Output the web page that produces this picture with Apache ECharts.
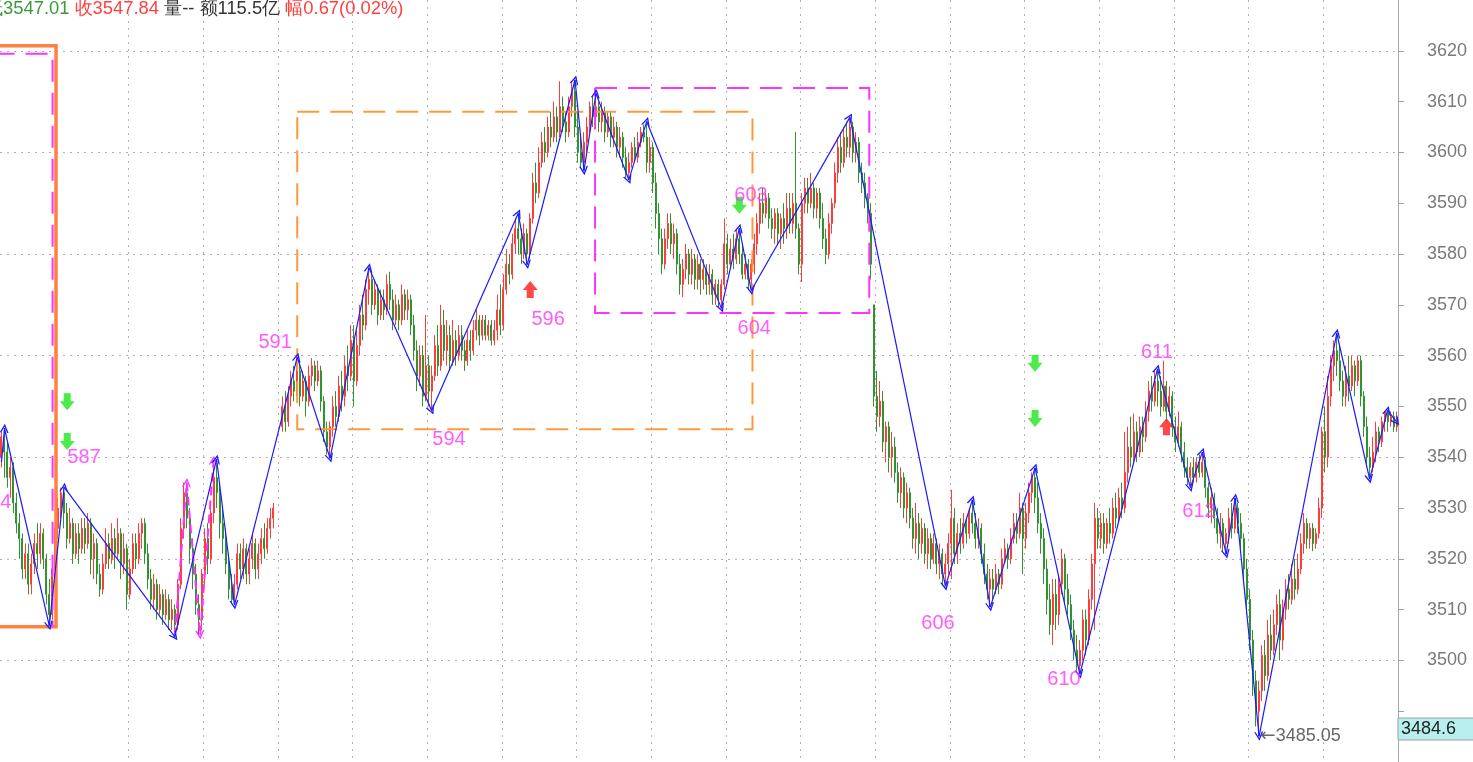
<!DOCTYPE html>
<html><head><meta charset="utf-8">
<script src="https://cdn.jsdelivr.net/npm/echarts@6/dist/echarts.min.js"></script>
<style>html,body{margin:0;padding:0;background:#fff;overflow:hidden}#c{width:1473px;height:762px}</style>
</head><body><div id="c"></div>
<script>
// candle data: [open, close, low, high]
const segA = [
[3540,3544,3538,3545],[3544,3541,3536,3545.7],[3541,3536,3534,3543],[3536,3538,3532,3540],[3538,3531,3529,3539],
[3531,3527,3525,3533],[3527,3524,3520,3529],[3524,3518,3516,3525],[3518,3521,3516,3523],[3521,3515,3513,3523],
[3515,3519,3513,3521],[3519,3523,3517,3525],[3523,3521,3518,3527],[3521,3525,3519,3527],[3525,3520,3518,3526],
[3520,3513,3511,3521],[3513,3509,3506.8,3516],[3509,3518,3508,3519],[3518,3526,3515,3528],[3526,3530,3524,3532],
[3530,3533,3528,3534],[3533,3529,3526,3534.1],[3529,3524,3522,3531],[3524,3527,3523,3530],[3527,3521,3519,3528],
[3521,3525,3520,3527],[3525,3522,3519,3527],[3522,3526,3521,3528],[3526,3523,3521,3528],[3523,3527,3522,3529],
[3527,3520,3517,3528],[3520,3523,3516,3525],[3523,3517,3515,3524],[3517,3514,3512.5,3519],[3514,3519,3513,3521],
[3519,3523,3518,3526],[3523,3520,3518,3525],[3520,3524,3519,3527],[3524,3521,3518,3526],[3521,3525,3520,3528],
[3525,3519,3516,3526],[3519,3522,3517,3525],[3522,3513,3510,3523],[3513,3518,3512,3520],[3518,3523,3517,3525],
[3523,3520,3518,3525],[3520,3525,3519,3527],[3525,3527,3522,3528],[3527,3521,3519,3528],[3521,3516,3514,3523],
[3516,3512,3510,3518],[3512,3515,3510,3517],[3515,3510,3508,3516],[3510,3513,3509,3515],[3513,3509,3507,3514],
[3509,3512,3508,3514],[3512,3508,3506,3513],[3508,3510,3506,3512],[3510,3507,3504.7,3511],[3507,3515,3506,3516],
[3515,3526,3514,3528],[3526,3533,3524,3535],[3533,3528,3526,3535],[3528,3522,3519,3530],[3522,3517,3514,3524],
[3517,3511,3509,3519],[3511,3508,3505,3513],[3508,3517,3506,3518],[3517,3524,3515,3526],[3524,3520,3517,3527],
[3520,3529,3519,3531],[3529,3536,3527,3538],[3536,3533,3530,3539.6],[3533,3527,3524,3535],[3527,3524,3521,3530],
[3524,3519,3517,3526],[3519,3514,3512,3521],[3514,3512,3511.5,3517],[3512,3515,3510.9,3517],[3515,3521,3514,3523],
[3521,3518,3516,3523],[3518,3522,3516,3524],[3522,3517,3515,3523],[3517,3520,3515,3522],[3520,3523,3518,3525],
[3523,3518,3516,3524],[3518,3521,3516,3523],[3521,3524,3519,3526],[3524,3522,3520,3527],[3522,3526,3521,3528],
[3526,3528,3524,3530],[3528,3530,3526,3531]
];
const segGap = [['-','-','-','-'],['-','-','-','-']];
const segB = [
[3546,3550,3545,3552],[3550,3547,3545,3553],[3547,3552,3546,3554],[3552,3555,3550,3557],[3555,3553,3551,3558],
[3553,3557,3552,3559.7],[3557,3552,3550,3559],[3552,3555,3551,3557],[3555,3551,3548,3556],[3551,3556,3550,3558],
[3556,3558,3554,3559.5],[3558,3555,3553,3559],[3555,3557,3554,3559],[3557,3551,3549,3558],[3551,3545,3543,3552],
[3545,3542,3540.5,3547],[3542,3546,3539.8,3547],[3546,3550,3544,3552],[3550,3548,3546,3553],[3548,3554,3547,3556],
[3554,3552,3549,3557],[3552,3558,3550,3560],[3558,3556,3553,3562],[3556,3563,3555,3566],[3563,3555,3550,3566],
[3555,3562,3554,3565],[3562,3568,3560,3570],[3568,3566,3563,3572],[3566,3573,3565,3575],[3573,3575,3570,3577.3],
[3575,3570,3568,3576],[3570,3573,3569,3575],[3573,3568,3566,3574],[3568,3571,3567,3573],[3571,3569,3567,3573],
[3569,3574,3568,3576],[3574,3571,3569,3576.5],[3571,3567,3565,3573],[3567,3570,3566,3572],[3570,3567,3565,3571],
[3567,3572,3566,3574],[3572,3569,3567,3573],[3569,3571,3567,3573],[3571,3566,3564,3572],[3566,3561,3559,3568],
[3561,3556,3553,3563],[3556,3560,3554,3562],[3560,3552,3550,3562],[3552,3558,3551,3568],[3558,3553,3550,3560],
[3553,3556,3549.2,3558],[3556,3562,3555,3564],[3562,3558,3556,3566],[3558,3566,3557,3570],[3566,3561,3559,3569],
[3561,3564,3558,3567],[3564,3559,3557,3566],[3559,3563,3558,3567],[3563,3560,3558,3565],[3560,3564,3559,3566],
[3564,3561,3559,3566],[3561,3559,3557,3563],[3559,3563,3558,3565],[3563,3561,3559,3565],[3561,3565,3560,3567],
[3565,3567,3563,3569],[3567,3564,3562,3568],[3564,3567,3563,3568],[3567,3564,3563,3568],[3564,3566,3563,3567],
[3566,3563,3562,3567],[3563,3565,3562,3567],[3565,3569,3563,3572],[3569,3566,3564,3574],[3566,3573,3565,3576],
[3573,3578,3572,3581],[3578,3576,3574,3580],[3576,3582,3575,3584],[3582,3585,3580,3587],[3585,3583,3580,3588]
];
const segC = [
[3583,3580,3578,3585],[3580,3584,3579,3586],[3584,3580,3577.9,3585],[3580,3587,3579,3588],[3587,3594,3586,3596],
[3594,3592,3590,3598],[3592,3598,3591,3601],[3598,3602,3597,3604],[3602,3600,3598,3605],[3600,3605,3599,3607],
[3605,3603,3601,3608],[3603,3607,3602,3610],[3607,3604,3602,3609],[3604,3609,3603,3614],[3609,3606,3604,3611],
[3606,3604,3602,3608],[3604,3609,3603,3611],[3609,3612,3607,3614],[3612,3605,3603,3614.3],[3605,3600,3598,3608],
[3600,3598,3597,3603],[3598,3602,3596.4,3604],[3602,3605,3600,3607],[3605,3609,3604,3610],[3609,3607,3605,3611],
[3607,3609,3605,3611.6],[3609,3606,3604,3610],[3606,3608,3604,3610],[3608,3604,3602,3609],[3604,3607,3603,3608],
[3607,3603,3601,3608],[3603,3605,3601,3607],[3605,3601,3599,3606],[3601,3603,3599,3605],[3603,3599,3597,3604],
[3599,3596,3595,3601],[3596,3598,3594.6,3600],[3598,3601,3597,3602],[3601,3599,3598,3603],[3599,3602,3598,3604],
[3602,3604,3601,3605],[3604,3603,3602,3605.5],[3603,3598,3596,3606.1],[3598,3601,3596,3603],[3601,3594,3592,3602],
[3594,3588,3585,3596],[3588,3583,3580,3590],[3583,3578,3576,3585],[3578,3583,3577,3585],[3583,3586,3581,3588],
[3586,3582,3580,3588],[3582,3584,3579,3586],[3584,3578,3576,3585],[3578,3574,3572,3580],[3574,3577,3571.5,3579],
[3577,3580,3575,3582],[3580,3576,3574,3581],[3576,3579,3574,3581],[3579,3575,3573,3580],[3575,3578,3573,3580],
[3578,3575,3572,3579],[3575,3577,3573,3579],[3577,3574,3572,3578],[3574,3576,3572,3578],[3576,3572,3570,3577],
[3572,3574,3570,3575],[3574,3571,3569.5,3575],[3571,3574,3569.3,3575],[3574,3582,3573,3587],[3582,3578,3576,3584],
[3578,3581,3577,3583],[3581,3579,3577,3584],[3579,3583,3578,3585],[3583,3580,3578,3585.1],[3580,3576,3575,3582],
[3576,3578,3575,3580],[3578,3575,3573,3579],[3575,3578,3572.8,3579]
];
const segD = [
[3578,3582,3576,3584],[3582,3586,3580,3588],[3586,3590,3584,3592],[3590,3588,3586,3593],[3588,3591,3587,3592],
[3591,3587,3585,3592],[3587,3585,3583,3589],[3585,3588,3582,3589],[3588,3584,3582,3589],[3584,3587,3581,3588],
[3587,3585,3582,3590],[3585,3589,3583,3592],[3589,3586,3584,3592],[3586,3590,3584,3592],[3590,3585,3583,3604],
[3585,3578,3576,3586],[3578,3590,3574.5,3592],[3590,3593,3588,3595],[3593,3590,3588,3595],[3590,3593,3589,3596],
[3593,3589,3587,3594],[3589,3592,3587,3593],[3592,3587,3585,3593],[3587,3583,3581,3590],[3583,3580,3578,3585],
[3580,3586,3579,3588],[3586,3590,3584,3591],[3590,3596,3589,3598],[3596,3601,3594,3603],[3601,3598,3596,3604],
[3598,3603,3597,3605],[3603,3601,3599,3606],[3601,3605,3599,3606.9],[3605,3600,3598,3606],[3600,3602,3598,3604],
[3602,3596,3594,3603],[3596,3594,3592,3598],[3594,3591,3589,3596],[3591,3588,3586,3592],[3588,3578,3575,3590],
[3570,3552,3550,3570],[3552,3548,3545,3557],[3548,3551,3546,3555],[3551,3543,3541,3553],[3543,3546,3539,3547],
[3546,3540,3537,3547],[3540,3542,3536,3545],[3542,3537,3535,3544],[3537,3533,3531,3539],[3533,3536,3530,3538],
[3536,3530,3528,3537],[3530,3533,3527,3535],[3533,3528,3526,3534],[3528,3524,3522,3530],[3524,3527,3521,3531],
[3527,3523,3520,3529],[3523,3526,3521,3528],[3526,3521,3519,3527],[3521,3524,3518,3526],[3524,3520,3518,3525],
[3520,3523,3519,3525],[3523,3519,3517,3524],[3519,3521,3516,3523],[3521,3517,3515,3522],[3517,3519,3514.6,3521]
];
const segE = [
[3519,3523,3517,3525],[3523,3528,3516,3533.6],[3528,3521,3519,3530],[3521,3525,3519,3527],[3525,3523,3521,3528],
[3523,3527,3522,3529],[3527,3525,3523,3528],[3525,3529,3524,3530],[3529,3527,3525,3531.6],[3527,3524,3522,3529],
[3524,3526,3522,3528],[3526,3521,3519,3527],[3521,3517,3515,3523],[3517,3514,3512,3519],[3514,3516,3510.5,3518],
[3516,3514,3512,3518],[3514,3517,3513,3519],[3517,3515,3513,3518],[3515,3520,3514,3522],[3520,3522,3519,3524],
[3522,3520,3518,3523],[3520,3524,3519,3526],[3524,3527,3523,3529],[3527,3525,3523,3529],[3525,3530,3524,3533],
[3530,3524,3517,3531],[3524,3529,3522,3531],[3529,3533,3527,3535],[3533,3536,3531,3537],[3536,3532,3529,3537.9],
[3532,3527,3525,3535],[3527,3524,3521,3529],[3524,3518,3515,3526],[3518,3512,3509,3520],[3512,3507,3505,3515],
[3507,3513,3503,3516],[3513,3509,3506,3516],[3509,3515,3507,3517],[3515,3520,3513,3522],[3520,3514,3511,3521],
[3514,3511,3509,3517],[3511,3506,3504,3513],[3506,3502,3500,3508],[3502,3499,3498,3505],[3499,3502,3497.3,3504],
[3502,3508,3500,3510],[3508,3504,3501,3510],[3504,3512,3503,3514],[3512,3519,3510,3521],[3519,3528,3506,3531],
[3528,3524,3522,3530],[3524,3527,3522,3529],[3527,3523,3521,3529],[3523,3527,3522,3528],[3527,3525,3523,3530],
[3525,3530,3524,3532],[3530,3528,3526,3533],[3528,3532,3527,3534],[3532,3530,3528,3535],[3530,3537,3529,3545],
[3537,3542,3535,3546],[3542,3540,3538,3548],[3540,3545,3539,3548.6],[3545,3541,3539,3547],[3541,3546,3540,3548],
[3546,3544,3541,3548],[3544,3549,3543,3551],[3549,3553,3547,3555],[3553,3551,3549,3556],[3551,3555,3550,3557],
[3555,3553,3550,3557.4]
];
const segF = [
[3553,3550,3548,3556],[3550,3554,3549,3559],[3554,3549,3547,3555],[3549,3552,3548,3554],[3552,3546,3544,3553],
[3546,3543,3541,3548],[3543,3546,3542,3549],[3546,3541,3539,3547],[3541,3538,3536,3543],[3538,3536,3534.5,3540],
[3536,3538,3534,3539],[3538,3536,3535,3540],[3536,3539,3535,3540],[3539,3537,3536,3540.5],[3537,3539,3536,3541],
[3539,3534,3532,3540],[3534,3530,3528,3535],[3530,3532,3527,3534],[3532,3528,3526,3533],[3528,3525,3523,3530],
[3525,3527,3522,3529],[3527,3523,3521.5,3528],[3523,3525,3520.9,3526],[3525,3528,3523,3530],[3528,3526,3524,3531],
[3526,3530,3525,3532],[3530,3527,3525,3531],[3527,3524,3522,3529],[3524,3518,3516,3525],[3518,3512,3509,3520],
[3512,3504,3502,3514],[3504,3496,3493,3506],[3496,3490,3487,3498],[3490,3494,3485.05,3496],[3494,3501,3492,3503],
[3501,3497,3494,3504],[3497,3505,3496,3508],[3505,3502,3500,3509],[3502,3507,3501,3510],[3507,3511,3505,3513],
[3511,3504,3500,3514],[3504,3510,3502,3512],[3510,3514,3508,3516],[3514,3512,3510,3517],[3512,3516,3511,3519],
[3516,3514,3512,3520],[3514,3518,3513,3521],[3518,3523,3517,3525],[3523,3527,3521,3529],[3527,3524,3522,3528],
[3524,3526,3522,3527],[3526,3523,3521.5,3527],[3523,3525,3522,3526],[3525,3530,3524,3532],[3530,3545,3528,3546],
[3545,3540,3537,3550],[3540,3552,3538,3556],[3552,3558,3550,3560],[3558,3561,3555,3563],[3561,3559,3556,3564.4],
[3559,3555,3553,3562],[3555,3552,3550,3557],[3552,3556,3550,3558],[3556,3554,3551,3560],[3554,3558,3553,3560],
[3558,3555,3552,3559],[3555,3559,3554,3560],[3559,3552,3550,3560],[3552,3546,3544,3553],[3546,3540,3538,3548],
[3540,3538,3535.7,3542],[3538,3541,3537,3544],[3541,3545,3539,3547],[3545,3543,3541,3546],[3543,3547,3542,3548],
[3547,3549,3545,3549],[3549,3547,3545,3549.2],[3547,3548,3546,3549],[3548,3546,3545,3549],[3546,3547.84,3545,3549]
];
const candles = segA.concat(segGap, segB, segC, segD, segE, segF);
const categories = candles.map((d, i) => 'K' + (i + 1));

// zigzag pivots (index, price)
const zigIdx = [0,1,16,21,58,72,78,99,110,123,144,173,176,192,195,199,210,216,241,247,251,284,316,325,331,346,361,387,398,402,410,413,421,447,458,464,467];
const zigVal = [3539,3545.7,3506.8,3534.1,3504.7,3539.6,3510.9,3559.7,3539.8,3577.3,3549.2,3588,3577.9,3614.3,3596.4,3611.6,3594.6,3606.1,3569.3,3585.1,3572.8,3606.9,3514.6,3531.6,3510.5,3537.9,3497.3,3557.4,3534,3541,3520.9,3532,3485.05,3564.4,3535.7,3549.2,3547];
// sub-level zigzag (magenta)
const subIdx = [58,62,66.5,71];
const subVal = [3504.7,3535,3505,3539.4];

// boxes: [leftIdx, rightIdx, top, bottom]
const boxOrangeSolid = [-3, 18.25, 3621, 3506.6];
const boxMagentaLeft = [-3, 17.1, 3619.4, 3506.6];
const boxOrangeDash = [99.0, 251.4, 3608.0, 3545.5];
const boxMagentaDash = [198.7, 290.5, 3612.7, 3568.4];

// signal arrows
const downArrows = [[22,3550.9],[22,3543.1],[247,3589.6],[346,3558.5],[346,3547.6]];
const upArrows = [[177,3573],[390,3546]];

// labels [idx, price, text]
const labels = [[3.5,3531,'584','right'],[27.6,3540,'587'],[91.6,3562.6,'591'],[149.8,3543.5,'594'],[183,3567.1,'596'],
[250.9,3591.5,'603'],[252,3565.4,'604'],[313.5,3507.2,'606'],[355.7,3496.3,'610'],[386.8,3560.7,'611'],[400.9,3529.3,'612']];

const header = {low:'3547.01', close:'3547.84', vol:'--', amt:'115.5亿', amp:'0.67(0.02%)'};
const cursorValue = '3484.6';

const segLines = (idx, val) => idx.slice(1).map((x, k) => ({coords: [[idx[k], val[k]], [x, val[k + 1]]]}));
const chevron = 'path://M0,10 L5,0 L10,10 L8.4,10 L5,3.2 L1.6,10 Z';
const blockArrow = 'path://M7.5,0 L15,9 L11,9 L11,17 L4,17 L4,9 L0,9 Z';
const dotted = {color:'#b0b0b0', type:[2,5], width:1};
const FF = 'Liberation Sans, Arial, sans-serif';

const chart = echarts.init(document.getElementById('c'), null, {renderer:'canvas'});
chart.setOption({
  animation:false,
  backgroundColor:'#ffffff',
  grid:{left:0, right:75, top:-4.25, bottom:-2.5, containLabel:false, show:false},
  xAxis:[
    {type:'category', data:categories, boundaryGap:true, axisLine:{show:false, onZero:false}, axisTick:{show:false}, axisLabel:{show:false},
     splitLine:{show:true, showMinLine:false, showMaxLine:false, interval:(i) => i >= 18 && (i - 18) % 25 === 0, lineStyle:dotted}},
    {type:'value', min:-0.5, max:467.5, show:false, axisLine:{show:false, onZero:false}, axisTick:{show:false}, axisLabel:{show:false}, splitLine:{show:false}}
  ],
  yAxis:[
    {type:'value', position:'right', min:3480, max:3630, interval:10, scale:true,
     axisLine:{show:true, onZero:false, lineStyle:{color:'#a8a8a8', width:1}},
     axisTick:{show:true, length:6, lineStyle:{color:'#a0a0a0'}},
     axisLabel:{color:'#7a7a7a', fontSize:18, fontFamily:FF, margin:29, showMinLabel:false, showMaxLabel:false,
       formatter:(v) => v < 3500 ? '' : String(v)},
     splitLine:{show:false}},
    {type:'value', position:'left', min:3480, max:3630, interval:20, scale:true,
     axisLine:{show:false, onZero:false}, axisTick:{show:false}, axisLabel:{show:false},
     splitLine:{show:true, showMinLine:false, showMaxLine:false, lineStyle:dotted}}
  ],
  series:[
    {type:'candlestick', xAxisIndex:0, yAxisIndex:0, data:candles, barWidth:1.5,
     itemStyle:{color:'#ff3c3c', color0:'#2f942f', borderColor:'#ff3c3c', borderColor0:'#2f942f', borderWidth:1}},
    {type:'lines', coordinateSystem:'cartesian2d', xAxisIndex:1, yAxisIndex:0, z:5,
     data:[
       {coords:[[boxOrangeSolid[0],boxOrangeSolid[2]],[boxOrangeSolid[1],boxOrangeSolid[2]],[boxOrangeSolid[1],boxOrangeSolid[3]],[boxOrangeSolid[0],boxOrangeSolid[3]]],
        lineStyle:{color:'#ff8040', width:3.5, type:'solid', opacity:1}},
       {coords:[[boxMagentaLeft[0],boxMagentaLeft[2]],[boxMagentaLeft[1],boxMagentaLeft[2]],[boxMagentaLeft[1],boxMagentaLeft[3]]],
        lineStyle:{color:'#ff33ff', width:2, type:[22,11], opacity:1}},
       {coords:[[boxOrangeDash[0],boxOrangeDash[2]],[boxOrangeDash[1],boxOrangeDash[2]],[boxOrangeDash[1],boxOrangeDash[3]],[boxOrangeDash[0],boxOrangeDash[3]],[boxOrangeDash[0],boxOrangeDash[2]]],
        lineStyle:{color:'#ff9a3c', width:2, type:[22,11], opacity:1}},
       {coords:[[boxMagentaDash[0],boxMagentaDash[2]],[boxMagentaDash[1],boxMagentaDash[2]],[boxMagentaDash[1],boxMagentaDash[3]],[boxMagentaDash[0],boxMagentaDash[3]],[boxMagentaDash[0],boxMagentaDash[2]]],
        lineStyle:{color:'#ff33ff', width:2, type:[22,11], opacity:1}}
     ],
     polyline:true, silent:true, lineStyle:{opacity:1}},
    {type:'lines', coordinateSystem:'cartesian2d', xAxisIndex:1, yAxisIndex:0, z:6, silent:true,
     data:segLines(subIdx, subVal), symbol:['none', chevron], symbolSize:[8,9],
     lineStyle:{color:'#ff33ff', width:2, type:[9,5], opacity:1}},
    {type:'lines', coordinateSystem:'cartesian2d', xAxisIndex:1, yAxisIndex:0, z:7, silent:true,
     data:segLines(zigIdx, zigVal), symbol:['none', chevron], symbolSize:[8,9],
     lineStyle:{color:'#1a1aff', width:1.2, opacity:1}},
    {type:'scatter', xAxisIndex:1, yAxisIndex:0, z:8, silent:true, data:downArrows, symbol:blockArrow, symbolSize:[15,17], symbolRotate:180,
     itemStyle:{color:'#1ee61e'}},
    {type:'scatter', xAxisIndex:1, yAxisIndex:0, z:8, silent:true, data:upArrows, symbol:blockArrow, symbolSize:[15,17],
     itemStyle:{color:'#ff1a1a'}},
    {type:'scatter', xAxisIndex:1, yAxisIndex:0, z:9, silent:true, symbolSize:1, itemStyle:{color:'rgba(0,0,0,0)'},
     data:labels.map(l => ({value:[l[0], l[1]], label:{show:true, formatter:l[2], position:l[3] === 'right' ? 'left' : 'inside', distance:0,
       align:l[3] === 'right' ? 'right' : 'center', verticalAlign:'middle', color:'#ff33ff', fontSize:20, fontFamily:FF}}))},
    {type:'scatter', xAxisIndex:1, yAxisIndex:0, z:9, silent:true, symbolSize:1, itemStyle:{color:'rgba(0,0,0,0)'},
     data:[{value:[zigIdx[32], zigVal[32]], label:{show:true, formatter:'{a|←}{t|' + zigVal[32].toFixed(2) + '}', position:'right', distance:1,
       rich:{a:{color:'#404040', fontSize:18, fontFamily:'DejaVu Sans, sans-serif'}, t:{color:'#404040', fontSize:18, fontFamily:FF}}}}]}
  ],
  graphic:[
    {type:'text', left:-15, top:0, z:20, style:{
      text:'{g|低' + header.low + '} {r|收' + header.close + '} {k|量' + header.vol + ' 额' + header.amt + '} {r|幅' + header.amp + '}',
      font:'18.4px ' + FF,
      rich:{g:{fill:'#3a9a3a', fontSize:18.4, fontFamily:FF}, r:{fill:'#ff4040', fontSize:18.4, fontFamily:FF}, k:{fill:'#333333', fontSize:18.4, fontFamily:FF}}}},
    {type:'rect', z:20, shape:{x:1398, y:718, width:80, height:22}, style:{fill:'#b8f0f0', stroke:'#a0a0a0', lineWidth:1}},
    {type:'text', z:21, x:1401, y:729, style:{text:cursorValue, font:'18px ' + FF, fill:'#222222', verticalAlign:'middle'}}
  ]
});
</script></body></html>
